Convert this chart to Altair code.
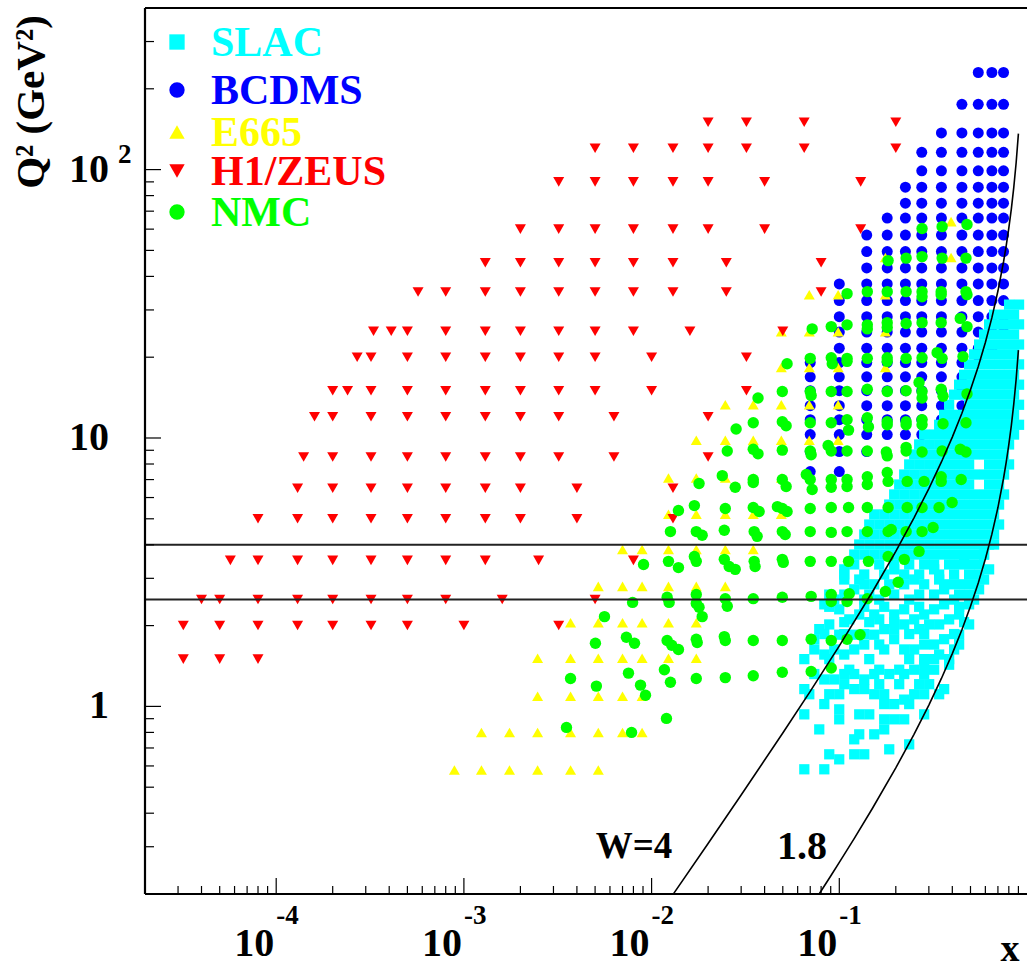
import altair as alt
import pandas as pd

# ---------------- data ----------------
# H1/ZEUS : (Q2, [x ...])
h1_rows = [
    (1.5, [3.2e-5, 5e-5, 8e-5]),
    (2.0, [3.2e-5, 5e-5, 8e-5, 1.3e-4, 2e-4, 3.2e-4, 5e-4, 1e-3, 3.2e-3]),
    (2.5, [4e-5, 5e-5, 8e-5, 1.3e-4, 2e-4, 3.2e-4, 5e-4, 8e-4, 1.6e-3, 5e-3]),
    (3.5, [5.7e-5, 8e-5, 1.3e-4, 2e-4, 3.2e-4, 5e-4, 8e-4, 1.3e-3, 2.5e-3, 8e-3]),
    (5.0, [8e-5, 1.3e-4, 2e-4, 3.2e-4, 5e-4, 8e-4, 1.3e-3, 2e-3, 4e-3, 1.3e-2]),
    (6.5, [1.3e-4, 2e-4, 3.2e-4, 5e-4, 8e-4, 1.3e-3, 2e-3, 4e-3, 1.3e-2]),
    (8.5, [1.4e-4, 2e-4, 3.2e-4, 5e-4, 8e-4, 1.3e-3, 2e-3, 3.2e-3, 6.3e-3, 2e-2]),
    (12, [1.6e-4, 2e-4, 3.2e-4, 5e-4, 8e-4, 1.3e-3, 2e-3, 3.2e-3, 6.3e-3, 2e-2]),
    (15, [2e-4, 2.4e-4, 3.2e-4, 5e-4, 8e-4, 1.3e-3, 2e-3, 3.2e-3, 5e-3, 1e-2, 3.2e-2]),
    (20, [2.7e-4, 3.2e-4, 5e-4, 8e-4, 1.3e-3, 2e-3, 3.2e-3, 5e-3, 1e-2, 3.2e-2]),
    (25, [3.3e-4, 4.1e-4, 5e-4, 8e-4, 1.3e-3, 2e-3, 3.2e-3, 5e-3, 8e-3, 1.6e-2, 5e-2]),
    (35, [5.7e-4, 8e-4, 1.3e-3, 2e-3, 3.2e-3, 5e-3, 8e-3, 1.3e-2, 2.5e-2, 8e-2]),
    (45, [1.3e-3, 2e-3, 3.2e-3, 5e-3, 8e-3, 1.3e-2, 2.5e-2, 8e-2]),
    (60, [2e-3, 3.2e-3, 5e-3, 8e-3, 1.3e-2, 2e-2, 4e-2, 1.3e-1]),
    (90, [3.2e-3, 5e-3, 8e-3, 1.3e-2, 2e-2, 4e-2, 1.3e-1]),
    (120, [5e-3, 8e-3, 1.3e-2, 2e-2, 3.2e-2, 6.5e-2, 2e-1]),
    (150, [2e-2, 3.2e-2, 6.5e-2, 2e-1]),
]

# E665 : (Q2, [x ...])
e665_rows = [
    (0.58, [8.9e-4, 1.24e-3, 1.75e-3, 2.47e-3, 3.7e-3, 5.2e-3]),
    (0.80, [1.24e-3, 1.75e-3, 2.47e-3, 3.7e-3, 5.2e-3, 7.0e-3, 8.9e-3]),
    (1.09, [2.47e-3, 3.7e-3, 5.2e-3, 7.0e-3, 8.9e-3]),
    (1.51, [2.47e-3, 3.7e-3, 5.2e-3, 7.0e-3, 8.9e-3, 1.23e-2, 1.73e-2]),
    (2.05, [3.7e-3, 5.2e-3, 7.0e-3, 8.9e-3, 1.23e-2, 1.73e-2]),
    (2.8, [5.2e-3, 7.0e-3, 8.9e-3, 1.23e-2, 1.73e-2, 2.47e-2]),
    (3.84, [7.0e-3, 8.9e-3, 1.23e-2, 1.73e-2, 2.47e-2, 3.48e-2]),
    (5.2, [1.23e-2, 1.73e-2, 2.47e-2, 3.48e-2, 4.91e-2]),
    (7.1, [1.23e-2, 1.73e-2, 2.47e-2, 3.48e-2, 4.91e-2]),
    (9.8, [1.73e-2, 2.47e-2, 3.48e-2, 4.91e-2, 6.92e-2, 9.86e-2]),
    (13.3, [2.47e-2, 3.48e-2, 4.91e-2, 6.92e-2, 9.86e-2]),
    (18.3, [4.91e-2, 6.92e-2, 9.86e-2, 0.176]),
    (24.9, [4.91e-2, 6.92e-2, 9.86e-2, 0.176]),
    (34.2, [6.92e-2, 9.86e-2, 0.176]),
    (47, [0.176, 0.394]),
    (64, [0.394]),
]

# BCDMS : (x, [Q2 ...])
bcdms_cols = [
    (0.07, [19.1, 16.9, 15.0, 13.2, 11.7, 10.3, 8.9, 7.5]),
    (0.10, [37.5, 32.5, 28.3, 24.8, 21.6, 19.1, 16.9, 15.0, 13.2, 11.7, 10.3, 8.9, 7.5]),
    (0.14, [57, 49.5, 43, 37.5, 32.5, 28.3, 24.8, 21.6, 19.1, 16.9, 15.0, 13.2, 11.7, 10.3, 8.9]),
    (0.18, [66, 57, 49.5, 43, 37.5, 32.5, 28.3, 24.8, 21.6, 19.1, 16.9, 15.0, 13.2, 11.7, 10.3]),
    (0.225, [86, 75, 66, 57, 49.5, 43, 37.5, 32.5, 28.3, 24.8, 21.6, 19.1, 16.9, 15.0, 13.2, 11.7, 10.3]),
    (0.275, [116, 99, 86, 75, 66, 57, 49.5, 43, 37.5, 32.5, 28.3, 24.8, 21.6, 19.1, 16.9, 15.0, 13.2, 11.7, 10.3]),
    (0.35, [137, 116, 99, 86, 75, 66, 57, 49.5, 43, 37.5, 32.5, 28.3, 24.8, 21.6, 19.1, 16.9, 15.0, 13.2, 11.7]),
    (0.45, [175, 137, 116, 99, 86, 75, 66, 57, 49.5, 43, 37.5, 32.5, 28.3, 24.8, 21.6, 19.1, 16.9, 15.0, 13.2]),
    (0.55, [230, 175, 137, 116, 99, 86, 75, 66, 57, 49.5, 43, 37.5, 32.5, 28.3, 24.8, 21.6, 19.1]),
    (0.65, [230, 175, 137, 116, 99, 86, 75, 66, 57, 49.5, 43, 37.5, 32.5, 28.3, 24.8, 21.6]),
    (0.75, [230, 175, 137, 116, 99, 86, 75, 66, 57, 49.5, 43, 37.5, 32.5, 28.3, 24.8]),
]

# NMC : x and Q2
nmc_x = [0.276, 0.353, 0.479,
         0.182, 0.227, 0.276, 0.353, 0.473,
         0.110, 0.141, 0.180, 0.227, 0.276, 0.276, 0.349, 0.349, 0.473, 0.479,
         0.0717, 0.0906, 0.110, 0.141, 0.141, 0.180, 0.180, 0.227, 0.276, 0.349, 0.441, 0.479,
         0.0527, 0.070, 0.0906, 0.0917, 0.110, 0.110, 0.141, 0.180, 0.180, 0.227, 0.276, 0.332, 0.353, 0.456,
         0.0369, 0.0497, 0.070, 0.0708, 0.0906, 0.110, 0.141, 0.180, 0.227, 0.266, 0.276, 0.276, 0.349, 0.357, 0.479,
         0.0282, 0.0348, 0.0497, 0.0521, 0.070, 0.0906, 0.110, 0.112, 0.141, 0.143, 0.180, 0.180, 0.227, 0.227, 0.276, 0.276, 0.357, 0.473,
         0.0253, 0.0348, 0.0369, 0.0497, 0.070, 0.0708, 0.0872, 0.0906, 0.110, 0.141, 0.178, 0.180, 0.227, 0.227, 0.276, 0.353, 0.441, 0.473,
         0.0179, 0.0238, 0.0279, 0.0348, 0.0348, 0.0497, 0.0521, 0.0667, 0.070, 0.0717, 0.0906, 0.0906, 0.110, 0.110, 0.141, 0.141, 0.180, 0.182, 0.230, 0.283, 0.349, 0.349, 0.446,
         0.0139, 0.0169, 0.0247, 0.0348, 0.0374, 0.0468, 0.0497, 0.0527, 0.070, 0.0906, 0.112, 0.141, 0.182, 0.230, 0.276, 0.340, 0.399,
         0.0126, 0.0173, 0.0186, 0.0244, 0.0352, 0.0365, 0.0497, 0.0515, 0.070, 0.0906, 0.110, 0.141, 0.182, 0.189, 0.227, 0.276, 0.316,
         0.00906, 0.0123, 0.0139, 0.0169, 0.0173, 0.0244, 0.0259, 0.0279, 0.0352, 0.0356, 0.0497, 0.0503, 0.070, 0.0906, 0.112, 0.143, 0.182, 0.222, 0.266,
         0.00792, 0.0121, 0.0124, 0.0173, 0.0173, 0.0179, 0.0247, 0.0253, 0.0348, 0.0497, 0.0708, 0.0906, 0.0906, 0.113, 0.110, 0.141, 0.176, 0.206,
         0.00561, 0.0186,
         0.00734, 0.00811, 0.00502, 0.0121, 0.0128, 0.0139, 0.0173, 0.0175, 0.0244, 0.0247, 0.0348, 0.0497, 0.0708, 0.0906, 0.110, 0.129,
         0.0037, 0.00508, 0.00753, 0.00873, 0.00928, 0.0117, 0.0126, 0.0173, 0.0247, 0.0348, 0.0497, 0.0708, 0.0906,
         0.00352, 0.00782, 0.0120]
nmc_q2 = [60.3, 61.3, 62.4,
          45.8, 46.8, 47.4, 46.8, 46.8,
          34.5, 35.1, 35.1, 35.1, 35.1, 33.6, 35.1, 34.2, 35.1, 34.2,
          25.5, 26.0, 26.4, 26.4, 25.5, 26.9, 25.8, 26.7, 26.9, 26.9, 27.9, 26.0,
          18.9, 19.8, 19.9, 18.9, 19.8, 19.3, 19.8, 19.9, 19.3, 19.8, 19.9, 20.8, 19.8, 20.1,
          14.1, 14.9, 14.9, 14.4, 14.9, 14.9, 15.2, 14.9, 15.0, 16.1, 14.9, 14.1, 15.2, 14.3, 14.6,
          10.8, 11.4, 11.5, 11.1, 11.4, 11.4, 11.7, 10.7, 11.9, 11.0, 11.5, 11.2, 11.5, 11.2, 11.7, 11.2, 11.3, 11.4,
          8.95, 9.08, 8.73, 9.01, 8.95, 8.66, 9.38, 8.95, 8.95, 8.95, 8.87, 8.58, 9.23, 8.95, 8.87, 8.95, 9.08, 8.87,
          6.77, 7.24, 6.55, 7.0, 6.83, 7.0, 6.60, 7.31, 7.0, 6.43, 7.0, 6.55, 7.0, 6.60, 7.17, 6.71, 7.44, 6.89, 6.89, 6.89, 7.17, 6.89, 7.0,
          5.37, 5.60, 5.46, 5.51, 5.32, 5.55, 5.46, 5.32, 5.46, 5.51, 5.51, 5.51, 5.51, 5.51, 5.51, 5.51, 5.75,
          4.48, 4.48, 4.34, 4.53, 4.48, 4.30, 4.48, 4.37, 4.48, 4.45, 4.48, 4.48, 4.48, 4.56, 4.48, 4.48, 4.64,
          3.38, 3.47, 3.29, 3.62, 3.47, 3.53, 3.32, 3.24, 3.47, 3.32, 3.53, 3.44, 3.47, 3.47, 3.47, 3.47, 3.62, 3.53, 3.78,
          2.44, 2.55, 2.44, 2.61, 2.42, 2.34, 2.52, 2.36, 2.52, 2.55, 2.57, 2.61, 2.46, 2.63, 2.46, 2.52, 2.68, 2.90,
          2.16, 2.16,
          1.81, 1.72, 1.72, 1.76, 1.69, 1.63, 1.78, 1.73, 1.82, 1.76, 1.76, 1.76, 1.78, 1.76, 1.78, 1.85,
          1.27, 1.19, 1.33, 1.20, 1.10, 1.37, 1.23, 1.27, 1.28, 1.30, 1.34, 1.35, 1.39,
          0.835, 0.80, 0.902]

# SLAC, dense upper band : (Q2, [x ...])
slac_rows = [
    (31.4, [0.8025, 0.9071]),
    (28.8, [0.6678, 0.7548, 0.8532]),
    (26.5, [0.6282, 0.7100, 0.8025, 0.9071]),
    (24.3, [0.5907, 0.6678, 0.7548, 0.8532]),
    (22.3, [0.5556, 0.6282, 0.7100, 0.8025, 0.9071]),
    (20.5, [0.5226, 0.5907, 0.6678, 0.7548, 0.8532]),
    (18.8, [0.4916, 0.5556, 0.6282, 0.7100, 0.8025, 0.9071]),
    (17.2, [0.4624, 0.5226, 0.5907, 0.6678, 0.7548, 0.8532]),
    (15.8, [0.4349, 0.4916, 0.5556, 0.6282, 0.7100, 0.8025, 0.9071]),
    (14.5, [0.4090, 0.4624, 0.5226, 0.5907, 0.6678, 0.7548, 0.8532]),
    (13.3, [0.3847, 0.4916, 0.5556, 0.6282, 0.7100, 0.8025, 0.9071]),
    (12.2, [0.3619, 0.4090, 0.4624, 0.5226, 0.5907, 0.6678, 0.7548, 0.8532]),
    (11.2, [0.3404, 0.3847, 0.4349, 0.4916, 0.5556, 0.6282, 0.7100, 0.8025, 0.9071]),
    (10.3, [0.2833, 0.3201, 0.3619, 0.4090, 0.4624, 0.5226, 0.5907, 0.6678, 0.7548, 0.8532]),
    (9.46, [0.2664, 0.3011, 0.3404, 0.3847, 0.4349, 0.4916, 0.5556, 0.6282, 0.7100, 0.8025]),
    (8.68, [0.2506, 0.2833, 0.3201, 0.3619, 0.4090, 0.4624, 0.5226, 0.5907, 0.6678, 0.7548]),
    (7.97, [0.2357, 0.2664, 0.3011, 0.3404, 0.3847, 0.4349, 0.4916, 0.6282, 0.7100, 0.8025]),
    (7.31, [0.2217, 0.2506, 0.2833, 0.3201, 0.3619, 0.4090, 0.4624, 0.5226, 0.5907, 0.6678, 0.7548]),
    (6.71, [0.2085, 0.2357, 0.2664, 0.3011, 0.3404, 0.3847, 0.4349, 0.4916, 0.6282, 0.7100]),
    (6.16, [0.1961, 0.2217, 0.2506, 0.2833, 0.3201, 0.3619, 0.4090, 0.4624, 0.5226, 0.5907, 0.6678, 0.7548]),
    (5.65, [0.1845, 0.2085, 0.2357, 0.2664, 0.3011, 0.3404, 0.3847, 0.4349, 0.4916, 0.5556, 0.6282, 0.7100]),
    (5.19, [0.1535, 0.1735, 0.1961, 0.2217, 0.2506, 0.2833, 0.3201, 0.3619, 0.4090, 0.4624, 0.5226, 0.5907, 0.6678]),
    (4.76, [0.1444, 0.1632, 0.1845, 0.2085, 0.2357, 0.2664, 0.3011, 0.3404, 0.3847, 0.4349, 0.4916, 0.5556, 0.6282, 0.7100]),
    (4.37, [0.1358, 0.1535, 0.1735, 0.1961, 0.2217, 0.2506, 0.2833, 0.3201, 0.3619, 0.4090, 0.4624, 0.5226, 0.5907, 0.6678]),
    (4.01, [0.1277, 0.1444, 0.1632, 0.1845, 0.2085, 0.2357, 0.2664, 0.3011, 0.3404, 0.3847, 0.4349, 0.4916, 0.5556, 0.6282]),
    (3.68, [0.1201, 0.1358, 0.1535, 0.1735, 0.1961, 0.2217, 0.2506, 0.2833, 0.3201, 0.3619, 0.4090, 0.4624, 0.5226, 0.5907]),
    (3.38, [0.1201, 0.1961, 0.3201, 0.4349, 0.4916]),
    (3.10, [0.1063, 0.1735, 0.2217, 0.2664, 0.3404, 0.5556]),
    (2.85, [0.3619, 0.5226, 0.1358]),
    (2.61, [0.0884, 0.1444, 0.4349, 0.4916]),
    (2.35, [0.0884, 0.1358, 0.1735, 0.2664, 0.4349]),
    (2.06, [0.1063, 0.1444, 0.1961, 0.4624]),
    (1.86, [0.0832, 0.1063, 0.1358, 0.2357, 0.2833, 0.4090]),
    (1.50, [0.0884, 0.1444, 0.2357, 0.2833]),
    (1.21, [0.1063, 0.2085, 0.2664, 0.3011]),
]
# SLAC, scattered lower part
slac_x = [0.0651, 0.0832, 0.0884, 0.0999, 0.1201, 0.1358, 0.1845, 0.2357,
          0.1201, 0.1277, 0.1535, 0.0782,
          0.0999, 0.1277, 0.1444, 0.1735, 0.1735, 0.1961, 0.2217, 0.2833, 0.0651,
          0.0999, 0.1735, 0.1735, 0.1961, 0.2217, 0.2357, 0.2506, 0.2833, 0.3404, 0.3619,
          0.0832, 0.0884, 0.0651, 0.0692, 0.0999, 0.1201, 0.1358, 0.1535, 0.1632,
          0.2217, 0.2833, 0.3201, 0.3847, 0.0651, 0.0736, 0.0832, 0.0940, 0.1063, 0.1130, 0.1201, 0.1358, 0.1535,
          0.1632, 0.1845, 0.2085, 0.2506, 0.2833, 0.3201, 0.3404, 0.3847, 0.4090, 0.4349, 0.4349, 0.4916,
          0.0736, 0.0832, 0.0940, 0.1063, 0.1201, 0.1358, 0.1632, 0.1735, 0.1961, 0.2217, 0.2506, 0.2833, 0.3201, 0.3619,
          0.0736, 0.0782, 0.0884, 0.0999, 0.1201, 0.1535, 0.1735, 0.1961, 0.2217, 0.2664, 0.3011, 0.3404, 0.3847,
          0.4349, 0.4916, 0.5226, 0.5556, 0.5907, 0.6282,
          0.0832, 0.0999, 0.1130, 0.1277, 0.1535, 0.1632, 0.1961, 0.2217, 0.2506, 0.2833, 0.3201, 0.3619, 0.4090,
          0.0940, 0.1063, 0.1201, 0.1358, 0.1632, 0.1961, 0.2357, 0.2664, 0.3201, 0.3619, 0.4090, 0.4624,
          0.1063, 0.1277, 0.1535, 0.1845, 0.2217, 0.2506, 0.2833, 0.3404, 0.4090, 0.4916, 0.5556,
          0.1063, 0.1358, 0.1632, 0.1961, 0.2357, 0.2833, 0.3201, 0.3847, 0.4624,
          0.5907, 0.6678]
slac_q2 = [0.583, 0.583, 0.663, 0.635, 0.663, 0.663, 0.692, 0.722,
           0.754, 0.787, 0.787, 0.821,
           0.895, 0.934, 0.934, 0.895, 0.821, 0.895, 0.895, 0.934, 0.934,
           0.975, 1.02, 1.11, 1.02, 1.06, 1.02, 1.11, 1.11, 1.11, 1.16,
           1.02, 1.11, 1.16, 1.11, 1.11, 1.16, 1.16, 1.11, 1.21,
           1.32, 1.32, 1.37, 1.43, 1.50, 1.32, 1.26, 1.26, 1.32, 1.37, 1.32, 1.26, 1.32,
           1.37, 1.32, 1.37, 1.37, 1.43, 1.50, 1.56, 1.50, 1.63, 1.70, 1.85, 2.02,
           1.63, 1.56, 1.63, 1.56, 1.63, 1.70, 1.70, 1.63, 1.78, 1.63, 1.63, 1.70, 1.70, 1.78,
           1.78, 1.94, 2.02, 1.85, 1.85, 1.85, 1.94, 1.94, 2.02, 1.94, 2.02, 2.02, 2.11,
           2.20, 2.40, 2.50, 2.73, 2.97, 3.24,
           2.40, 2.30, 2.11, 2.20, 2.20, 2.11, 2.20, 2.30, 2.11, 2.20, 2.30, 2.40, 2.50,
           2.50, 2.61, 2.73, 2.50, 2.50, 2.61, 2.50, 2.61, 2.61, 2.73, 2.85, 2.85,
           2.97, 2.97, 2.85, 2.85, 2.85, 2.97, 2.85, 2.97, 3.10, 3.10, 3.38,
           3.24, 3.10, 3.38, 3.24, 3.38, 3.38, 3.24, 3.38, 3.53,
           3.68, 4.01]

# kinematic limits W = 4 GeV and W = 1.8 GeV
w4_x = [0.0131, 0.02, 0.03, 0.05, 0.07, 0.1, 0.15, 0.2, 0.25, 0.3, 0.35, 0.4, 0.45, 0.5,
        0.55, 0.6, 0.65, 0.7, 0.75, 0.775, 0.8, 0.825, 0.85, 0.875, 0.9]
w4_q2 = [0.2007, 0.3086, 0.4676, 0.7958, 1.138, 1.680, 2.668, 3.78, 5.04, 6.48, 8.142, 10.08, 12.37, 15.12,
         18.48, 22.68, 28.08, 35.28, 45.36, 52.08, 60.48, 71.28, 85.68, 105.8, 136.1]
w18_x = [0.0781, 0.09, 0.1, 0.12, 0.15, 0.2, 0.25, 0.3, 0.35, 0.4, 0.45, 0.5, 0.55, 0.6,
         0.65, 0.7, 0.75, 0.775, 0.8, 0.825, 0.85, 0.875, 0.9]
w18_q2 = [0.2, 0.2334, 0.2622, 0.3218, 0.4165, 0.59, 0.7867, 1.0114, 1.2708, 1.5733, 1.9309, 2.36, 2.8844, 3.54,
          4.3829, 5.5067, 7.08, 8.129, 9.44, 11.126, 13.373, 16.52, 21.24]

hlines_q2 = [2.5, 4.0]

x_major = [1e-4, 1e-3, 1e-2, 1e-1]
x_minor = [m * d for d in [1e-5, 1e-4, 1e-3, 1e-2, 1e-1] for m in range(2, 10) if m * d > 2.05e-5]
y_major = [1, 10, 100]
y_minor = [m * d for d in [0.1, 1, 10, 100] for m in range(2, 10) if 0.2 < m * d <= 400]
x_exp = ["-4", "-3", "-2", "-1"]

series = ["SLAC", "BCDMS", "E665", "H1/ZEUS", "NMC"]
colors = ["#00FFFF", "#0000FF", "#FFFF00", "#FF0000", "#00FF00"]
shapes = ["square", "circle", "triangle-up", "triangle-down", "circle"]

# ---------------- build tables ----------------
def rows_df(rows):
    return pd.DataFrame([(x, q) for q, xs in rows for x in xs], columns=["x", "q2"])

h1 = rows_df(h1_rows)
e665 = rows_df(e665_rows)
bcdms = pd.DataFrame([(x, q) for x, qs in bcdms_cols for q in qs], columns=["x", "q2"])
nmc = pd.DataFrame({"x": nmc_x, "q2": nmc_q2})
slac = pd.concat([rows_df(slac_rows), pd.DataFrame({"x": slac_x, "q2": slac_q2})])
curves = pd.concat([
    pd.DataFrame({"x": w4_x, "q2": w4_q2, "c": "W4"}),
    pd.DataFrame({"x": w18_x, "q2": w18_q2, "c": "W18"}),
])

W, H = 882, 886
FONT = "Liberation Serif"
xs = alt.Scale(type="log", domain=[2e-5, 1])
ys = alt.Scale(type="log", domain=[0.2, 400])
XE = alt.X("x:Q", scale=xs, axis=None)
YE = alt.Y("q2:Q", scale=ys, axis=None)


def pts(df, shape, color, size):
    return alt.Chart(df).mark_point(shape=shape, filled=True, color=color, size=size,
                                    opacity=1, strokeWidth=0).encode(x=XE, y=YE)


layers = [
    pts(bcdms, "circle", "#0000FF", 121),
    pts(slac, "square", "#00FFFF", 105),
    pts(e665, "triangle-up", "#FFFF00", 121),
    pts(h1, "triangle-down", "#FF0000", 121),
    pts(nmc, "circle", "#00FF00", 130),
]

hl = alt.Chart(pd.DataFrame({"q2": hlines_q2})).mark_rule(color="#222222", strokeWidth=2).encode(
    y=YE, x=alt.value(0), x2=alt.value(W))
cv = alt.Chart(curves).mark_line(color="black", strokeWidth=1.6).encode(x=XE, y=YE, detail="c:N")

# frame (left, bottom, top)
frame_df = pd.DataFrame({"k": [0]})
fr_left = alt.Chart(frame_df).mark_rule(color="black", strokeWidth=2.2).encode(
    x=alt.value(0), y=alt.value(0), y2=alt.value(H))
fr_bot = alt.Chart(frame_df).mark_rule(color="black", strokeWidth=2.2).encode(
    x=alt.value(0), x2=alt.value(W), y=alt.value(H))
fr_top = alt.Chart(frame_df).mark_rule(color="black", strokeWidth=2.2).encode(
    x=alt.value(0), x2=alt.value(W), y=alt.value(0))

# ticks (inside the frame)
tx_maj = alt.Chart(pd.DataFrame({"x": x_major})).mark_rule(color="black", strokeWidth=1.2).encode(
    x=XE, y=alt.value(H), y2=alt.value(H - 16))
tx_min = alt.Chart(pd.DataFrame({"x": x_minor})).mark_rule(color="black", strokeWidth=1.2).encode(
    x=XE, y=alt.value(H), y2=alt.value(H - 8))
ty_maj = alt.Chart(pd.DataFrame({"q2": y_major})).mark_rule(color="black", strokeWidth=1.2).encode(
    y=YE, x=alt.value(0), x2=alt.value(16))
ty_min = alt.Chart(pd.DataFrame({"q2": y_minor})).mark_rule(color="black", strokeWidth=1.2).encode(
    y=YE, x=alt.value(0), x2=alt.value(9))

# tick labels
xl_df = pd.DataFrame({"x": x_major, "base": ["10"] * 4, "exp": x_exp})
xl_base = alt.Chart(xl_df).mark_text(font=FONT, fontWeight="bold", fontSize=40, align="right",
                                     baseline="middle", dx=-2, color="black").encode(
    x=XE, y=alt.value(H + 50), text="base:N")
xl_exp = alt.Chart(xl_df).mark_text(font=FONT, fontWeight="bold", fontSize=27, align="left",
                                    baseline="middle", dx=0, color="black").encode(
    x=XE, y=alt.value(H + 22), text="exp:N")
yl_df = pd.DataFrame({"q2": [1, 10, 100], "t": ["1", "10", "10"]})
yl = alt.Chart(yl_df).mark_text(font=FONT, fontWeight="bold", fontSize=40, align="right",
                                baseline="middle", color="black").encode(
    y=YE, x=alt.value(-36), text="t:N")
yl_exp = alt.Chart(pd.DataFrame({"q2": [100], "t": ["2"]})).mark_text(
    font=FONT, fontWeight="bold", fontSize=27, align="left", baseline="middle", color="black",
    dy=-15).encode(y=YE, x=alt.value(-27), text="t:N")

def label(t, x, y, size=40, align="center", angle=0, color="black"):
    return alt.Chart(pd.DataFrame({"t": [t]})).mark_text(
        font=FONT, fontWeight="bold", fontSize=size, align=align, baseline="middle",
        angle=angle, color=color).encode(x=alt.value(x), y=alt.value(y), text="t:N")

texts = [
    label("W=4", 489, 839, size=37),
    label("1.8", 657, 839),
    label("x", 865, 942, size=38),
    label("Q\u00b2 (GeV\u00b2)", -113, 94, size=41, angle=270),
]

# legend
leg_y = [34, 82, 124, 163, 204]
leg_layers = []
for s, c, sh, yy in zip(series, colors, shapes, leg_y):
    leg_layers.append(alt.Chart(pd.DataFrame({"s": [s]})).mark_point(
        shape=sh, filled=True, color=c, size=235, opacity=1, strokeWidth=0).encode(
        x=alt.value(32), y=alt.value(yy)))
    leg_layers.append(label(s, 66, yy + 1, size=42, align="left", color=c))

chart = alt.layer(*layers, hl, cv, fr_left, fr_bot, fr_top, tx_maj, tx_min, ty_maj, ty_min,
                  xl_base, xl_exp, yl, yl_exp, *texts, *leg_layers).properties(
    width=W, height=H,
    autosize=alt.AutoSizeParams(type="none"),
    padding={"left": 145, "top": 8, "right": 0, "bottom": 70},
).configure_view(strokeWidth=0).configure(background="white")

chart.save("out.html", embed_options={"renderer": "svg", "actions": False})
